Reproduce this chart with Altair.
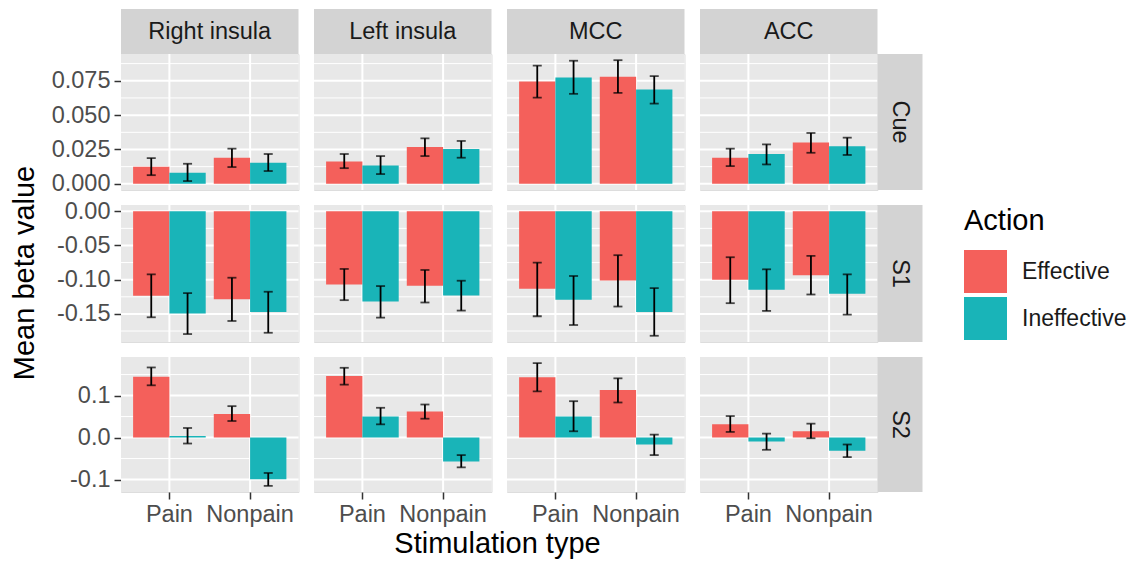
import altair as alt
import pandas as pd

FONT = "Liberation Sans"
RED = "#F4605B"
TEAL = "#19B4B8"
PANEL_BG = "#E8E8E8"
STRIP_BG = "#D3D3D3"

regions = ["Right insula", "Left insula", "MCC", "ACC"]
phases = ["Cue", "S1", "S2"]
stim_types = ["Pain", "Nonpain"]
actions = ["Effective", "Ineffective"]

# order inside each region: Pain-Effective, Pain-Ineffective, Nonpain-Effective, Nonpain-Ineffective
# regions in order: Right insula, Left insula, MCC, ACC
cue_mean = [0.0124, 0.0080, 0.0190, 0.0153,
            0.0163, 0.0134, 0.0268, 0.0253,
            0.0745, 0.0774, 0.0779, 0.0687,
            0.0190, 0.0217, 0.0300, 0.0273]
cue_lo = [0.0063, 0.0020, 0.0122, 0.0093,
          0.0114, 0.0071, 0.0202, 0.0190,
          0.0628, 0.0655, 0.0662, 0.0584,
          0.0129, 0.0141, 0.0226, 0.0210]
cue_hi = [0.0187, 0.0146, 0.0256, 0.0217,
          0.0217, 0.0202, 0.0331, 0.0312,
          0.0860, 0.0896, 0.0900, 0.0784,
          0.0256, 0.0287, 0.0370, 0.0336]

s1_mean = [-0.1235, -0.1495, -0.1284, -0.1470,
           -0.1069, -0.1319, -0.1088, -0.1230,
           -0.1132, -0.1294, -0.1010, -0.1470,
           -0.1000, -0.1147, -0.0936, -0.1206]
s1_lo = [-0.1549, -0.1794, -0.1603, -0.1775,
         -0.1299, -0.1554, -0.1333, -0.1451,
         -0.1534, -0.1662, -0.1392, -0.1819,
         -0.1343, -0.1456, -0.1216, -0.1510]
s1_hi = [-0.0922, -0.1196, -0.0971, -0.1176,
         -0.0843, -0.1093, -0.0858, -0.1015,
         -0.0750, -0.0946, -0.0642, -0.1123,
         -0.0672, -0.0848, -0.0652, -0.0922]

s2_mean = [0.1449, 0.0040, 0.0559, -0.0992,
           0.1465, 0.0504, 0.0622, -0.0567,
           0.1433, 0.0504, 0.1134, -0.0165,
           0.0315, -0.0094, 0.0150, -0.0315]
s2_lo = [0.1244, -0.0142, 0.0394, -0.1150,
         0.1260, 0.0315, 0.0449, -0.0709,
         0.1102, 0.0150, 0.0835, -0.0417,
         0.0134, -0.0291, -0.0016, -0.0465]
s2_hi = [0.1669, 0.0228, 0.0748, -0.0843,
         0.1661, 0.0709, 0.0787, -0.0417,
         0.1772, 0.0866, 0.1410, 0.0070,
         0.0512, 0.0094, 0.0331, -0.0165]

# y-scale setup per row (free scales by row)
y_domains = {"Cue": [-0.0045, 0.0945], "S1": [-0.191, 0.0091], "S2": [-0.1296, 0.1918]}
y_major = {"Cue": [0.0, 0.025, 0.05, 0.075], "S1": [-0.15, -0.1, -0.05, 0.0], "S2": [-0.1, 0.0, 0.1]}
y_minor = {"Cue": [0.0125, 0.0375, 0.0625, 0.0875], "S1": [-0.175, -0.125, -0.075, -0.025],
           "S2": [-0.05, 0.05, 0.15]}
y_fmt = {"Cue": ".3f", "S1": ".2f", "S2": ".1f"}

series = {"Cue": (cue_mean, cue_lo, cue_hi), "S1": (s1_mean, s1_lo, s1_hi), "S2": (s2_mean, s2_lo, s2_hi)}

records = []
for phase in phases:
    m, lo, hi = series[phase]
    k = 0
    for region in regions:
        for st in stim_types:
            for ac in actions:
                records.append({"phase": phase, "region": region, "stim": st, "action": ac,
                                "mean": m[k], "lo": lo[k], "hi": hi[k]})
                k += 1
df = pd.DataFrame(records)

PW = 177.5
PH = {"Cue": 136, "S1": 137, "S2": 135}
STRIP = 45
FS = 23.5
TFS = 29

color_enc = alt.Color(
    "action:N",
    scale=alt.Scale(domain=actions, range=[RED, TEAL]),
    legend=alt.Legend(title="Action", orient="none", legendX=843, legendY=153,
                      titleFontSize=TFS, titleFont=FONT, titleColor="black", titleFontWeight="normal",
                      labelFontSize=23, labelFont=FONT, labelColor="#1A1A1A",
                      symbolType="square", symbolSize=1849, symbolStrokeWidth=0,
                      rowPadding=4, titlePadding=14, labelOffset=15, padding=0),
)


def make_panel(phase, pi, region, ri):
    w = PW
    h = PH[phase]
    first_col = ri == 0
    last_col = ri == len(regions) - 1
    bottom = pi == len(phases) - 1
    sub = df[(df["phase"] == phase) & (df["region"] == region)]

    fmt = y_fmt[phase]
    label_expr = f"datum.value < 0 ? '-' + format(-datum.value, '{fmt}') : format(datum.value, '{fmt}')"
    yscale = alt.Scale(domain=y_domains[phase], nice=False, zero=False)
    if first_col:
        yaxis = alt.Axis(values=y_major[phase], labelExpr=label_expr, title=None, grid=False,
                         domain=False, ticks=True, tickSize=7,
                         tickWidth=1.5, tickColor="#333333", labelFontSize=FS, labelFont=FONT,
                         labelColor="#4D4D4D", labelPadding=4)
    else:
        yaxis = None
    if bottom:
        xaxis = alt.Axis(title=None, grid=False, domain=False, labelAngle=0, tickSize=7,
                         tickWidth=1.5, tickColor="#333333", labelFontSize=FS, labelFont=FONT,
                         labelColor="#4D4D4D", labelPadding=3)
    else:
        xaxis = None
    xscale = alt.Scale(domain=stim_types, paddingInner=0.1, paddingOuter=0.15)
    xenc = alt.X("stim:N", sort=stim_types, scale=xscale, axis=xaxis)
    xoff = alt.XOffset("action:N", sort=actions,
                       scale=alt.Scale(domain=actions, paddingInner=0, paddingOuter=0))

    one = pd.DataFrame({"label": [region]})
    bg = alt.Chart(one).mark_rect(color=PANEL_BG).encode(
        x=alt.value(0), x2=alt.value(w), y=alt.value(0), y2=alt.value(h))
    minor = alt.Chart(pd.DataFrame({"v": y_minor[phase]})).mark_rule(
        color="white", strokeWidth=1).encode(y=alt.Y("v:Q", scale=yscale, axis=yaxis))
    major = alt.Chart(pd.DataFrame({"v": y_major[phase]})).mark_rule(
        color="white", strokeWidth=2).encode(y=alt.Y("v:Q", scale=yscale, axis=yaxis))
    xgrid = alt.Chart(pd.DataFrame({"stim": stim_types})).mark_rule(
        color="white", strokeWidth=2).encode(x=xenc)
    bars = alt.Chart(sub).mark_bar().encode(
        x=xenc, xOffset=xoff, y=alt.Y("mean:Q", scale=yscale, axis=yaxis), color=color_enc)
    err = alt.Chart(sub).mark_rule(color="black", strokeWidth=1.8).encode(
        x=xenc, xOffset=xoff, y=alt.Y("lo:Q", scale=yscale), y2="hi:Q")
    cap_lo = alt.Chart(sub).mark_tick(color="black", size=9, thickness=1.8).encode(
        x=xenc, xOffset=xoff, y=alt.Y("lo:Q", scale=yscale))
    cap_hi = alt.Chart(sub).mark_tick(color="black", size=9, thickness=1.8).encode(
        x=xenc, xOffset=xoff, y=alt.Y("hi:Q", scale=yscale))

    layers = [bg, minor, major, xgrid, bars, err, cap_lo, cap_hi]
    if pi == 0:
        layers.append(alt.Chart(one).mark_rect(color=STRIP_BG).encode(
            x=alt.value(0), x2=alt.value(w), y=alt.value(-STRIP), y2=alt.value(0)))
        layers.append(alt.Chart(one).mark_text(font=FONT, fontSize=FS, color="#1A1A1A",
                                               align="center", baseline="middle").encode(
            x=alt.value(w / 2), y=alt.value(-STRIP / 2), text="label:N"))
    if last_col:
        pl = pd.DataFrame({"label": [phase]})
        layers.append(alt.Chart(pl).mark_rect(color=STRIP_BG).encode(
            x=alt.value(w), x2=alt.value(w + STRIP), y=alt.value(0), y2=alt.value(h)))
        layers.append(alt.Chart(pl).mark_text(font=FONT, fontSize=FS, color="#1A1A1A", angle=90,
                                              align="center", baseline="middle").encode(
            x=alt.value(w + STRIP / 2), y=alt.value(h / 2), text="label:N"))
    if first_col and phase == "S1":
        layers.append(alt.Chart(pd.DataFrame({"label": ["Mean beta value"]})).mark_text(
            font=FONT, fontSize=TFS, color="black", angle=270, align="center",
            baseline="middle").encode(x=alt.value(-96), y=alt.value(68), text="label:N"))
    if first_col and bottom:
        layers.append(alt.Chart(pd.DataFrame({"label": ["Stimulation type"]})).mark_text(
            font=FONT, fontSize=TFS, color="black", align="center",
            baseline="top").encode(x=alt.value(376.5), y=alt.value(173), text="label:N"))

    return alt.layer(*layers).properties(width=w, height=h)


panels = []
for pi, phase in enumerate(phases):
    for ri, region in enumerate(regions):
        panels.append(make_panel(phase, pi, region, ri))

chart = (
    alt.concat(*panels, columns=4, spacing=15, bounds="flush", align="each")
    .properties(padding={"left": 2, "top": 0, "right": 0, "bottom": 0}, background="white")
    .configure_view(strokeWidth=0)
    .configure(font=FONT)
)

chart.save("out.html", embed_options={"renderer": "svg", "actions": False})
